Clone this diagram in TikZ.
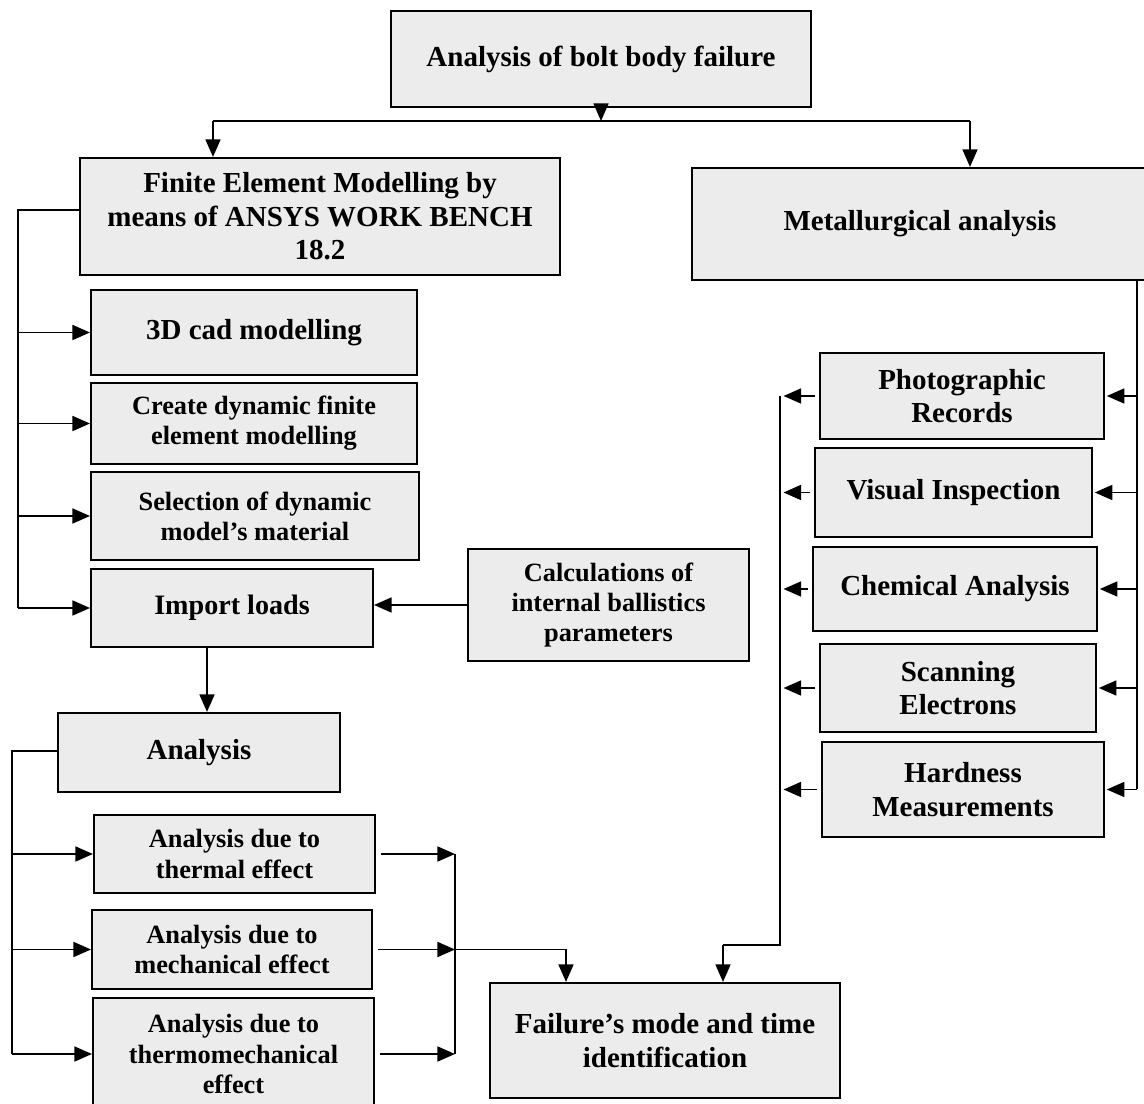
\documentclass[tikz,border=0pt]{standalone}
\usepackage{fontspec}
\setmainfont{Liberation Serif}
\usetikzlibrary{arrows.meta,positioning}

\definecolor{boxfill}{RGB}{236,236,236}
\newcommand{\bigtxt}{\fontsize{16.5}{19}\selectfont\bfseries}
\newcommand{\midtxt}{\fontsize{16}{18}\selectfont\bfseries}
\newcommand{\smalltxt}{\fontsize{15}{17.2}\selectfont\bfseries}

\tikzset{
  blk/.style={draw, line width=1.2pt, fill=boxfill, align=center, font=\bigtxt, inner sep=2pt},
  arr/.style={-{Triangle[length=10pt,width=8.5pt]}, line width=1.1pt},
  ln/.style={line width=1.1pt}
}

\begin{document}
\begin{tikzpicture}[x=0.02cm, y=-0.02cm]
      \useasboundingbox (0,0) rectangle (1144,1104);

      \node[blk, minimum width=8.4cm, minimum height=1.92cm] (top) at (601,59) {Analysis of bolt body failure};
      \node[blk, minimum width=9.6cm, minimum height=2.34cm] (fem) at (320,216.5) {Finite Element Modelling by\\ means of ANSYS WORK BENCH\\ 18.2};
      \node[blk, minimum width=9.12cm, minimum height=2.24cm] (met) at (920,224) {Metallurgical analysis};

      % finite element side
      \node[blk, minimum width=6.52cm, minimum height=1.7cm] (cad) at (254,332.5) {3D cad modelling};
      \node[blk, font=\smalltxt, minimum width=6.52cm, minimum height=1.62cm] (dyn) at (254,423.5) {Create dynamic finite\\ element modelling};
      \node[blk, font=\smalltxt, minimum width=6.56cm, minimum height=1.76cm] (mat) at (255,516) {Selection of dynamic\\ model’s material};
      \node[blk, font=\midtxt, minimum width=5.64cm, minimum height=1.56cm] (imp) at (232,608) {Import loads};
      \node[blk, font=\smalltxt, minimum width=5.62cm, minimum height=2.24cm] (calc) at (608.5,605) {Calculations of\\ internal ballistics\\ parameters};

      \node[blk, minimum width=5.64cm, minimum height=1.58cm] (ana) at (199,752.5) {Analysis};
      \node[blk, font=\smalltxt, minimum width=5.62cm, minimum height=1.56cm] (thm) at (234.5,854) {Analysis due to\\ thermal effect};
      \node[blk, font=\smalltxt, minimum width=5.6cm, minimum height=1.58cm] (mec) at (232,949.5) {Analysis due to\\ mechanical effect};
      \node[blk, font=\smalltxt, minimum width=5.62cm, minimum height=2.24cm] (tmc) at (233.5,1054) {Analysis due to\\ thermomechanical\\ effect};

      \node[blk, minimum width=7cm, minimum height=2.3cm] (fail) at (665,1040.5) {Failure’s mode and time\\ identification};

      % metallurgical side
      \node[blk, minimum width=5.68cm, minimum height=1.72cm] (pho) at (962,396) {Photographic\\ Records};
      \node[blk, minimum width=5.54cm, minimum height=1.78cm] (vis) at (953.5,492.5) {Visual Inspection};
      \node[blk, minimum width=5.68cm, minimum height=1.68cm] (che) at (955,589) {Chemical Analysis};
      \node[blk, minimum width=5.52cm, minimum height=1.76cm] (sca) at (958,688) {Scanning\\ Electrons};
      \node[blk, minimum width=5.64cm, minimum height=1.9cm] (har) at (963,789.5) {Hardness\\ Measurements};

      \coordinate (sl) at (213,121);
      \coordinate (sr) at (970,121);
      \coordinate (lb) at (18,210);
      \coordinate (ab) at (12,751);
      \coordinate (dn) at (207,0);
      \coordinate (rj) at (455,949.5);
      \coordinate (fl) at (566,949.5);
      \coordinate (rb) at (1137,0);
      \coordinate (mb) at (780,945);
      \coordinate (fr) at (723,945);

      \draw[arr] (top.south) -- (top.south |- sl);
      \draw[ln] (sl) -- (sr);
      \draw[arr] (sl) -- (sl |- fem.north);
      \draw[arr] (sr) -- (sr |- met.north);

      \draw[ln] (fem.west |- lb) -- (lb) -- (lb |- imp.west);
      \foreach \n in {cad,dyn,mat,imp}
        \draw[arr] (lb |- \n.west) -- (\n.west);
      \draw[arr] (calc.west) -- (calc.west -| imp.east);
      \draw[arr] (imp.south -| dn) -- (ana.north -| dn);

      \draw[ln] (ana.west |- ab) -- (ab) -- (ab |- tmc.west);
      \foreach \n in {thm,mec,tmc}
        \draw[arr] (ab |- \n.west) -- (\n.west);
      \foreach \n in {thm,mec,tmc}
        \draw[arr] ([xshift=3pt]\n.east) -- (\n.east -| rj);
      \draw[ln] (thm.east -| rj) -- (tmc.east -| rj);
      \draw[arr] (rj) -- (fl) -- (fl |- fail.north);

      \draw[ln] (met.south -| rb) -- (rb |- har.east);
      \foreach \n in {pho,vis,che,sca,har}
        \draw[arr, shorten >=1pt] (rb |- \n.east) -- (\n.east);
      \foreach \n in {pho,vis,che,sca,har}
        \draw[arr, shorten >=2pt] ([xshift=-2pt]\n.west) -- (mb |- \n.west);
      \draw[ln] (mb |- pho.west) -- (mb) -- (fr);
      \draw[arr] (fr) -- (fr |- fail.north);
\end{tikzpicture}
\end{document}
